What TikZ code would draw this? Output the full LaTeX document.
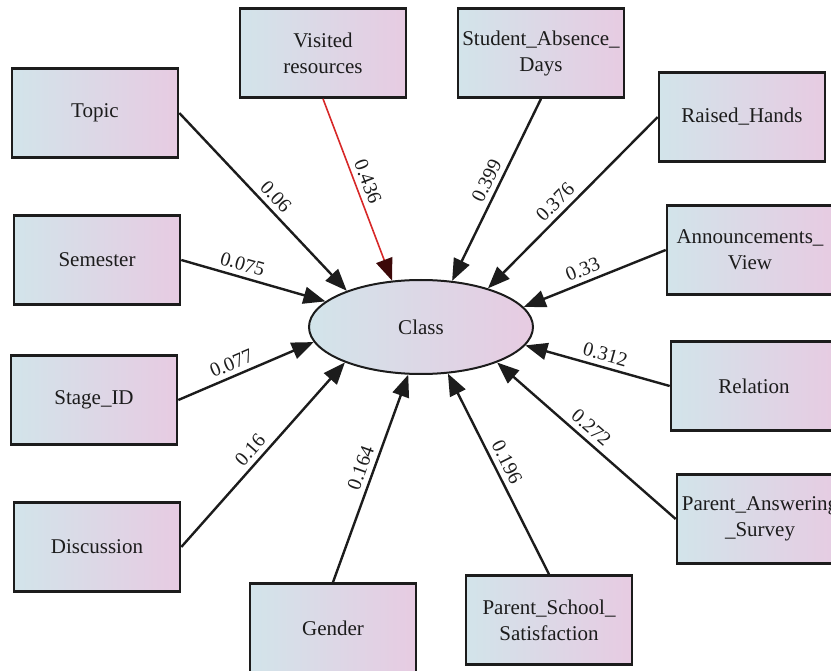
\documentclass[tikz,border=0pt]{standalone}
\usepackage{fontspec}
\setmainfont{Liberation Serif}
\usepackage{tikz}
\usetikzlibrary{shapes.geometric,arrows.meta}
\definecolor{boxl}{RGB}{210,228,234}
\definecolor{boxr}{RGB}{231,203,226}
\definecolor{ink}{RGB}{28,28,28}
\definecolor{redline}{RGB}{215,40,40}
\definecolor{redtip}{RGB}{60,8,8}

\begin{document}
\begin{tikzpicture}[x=1pt,y=-1pt,
  var/.style={draw=ink,line width=2.6pt,left color=boxl,right color=boxr,minimum width=166pt,minimum height=89pt,align=center,inner sep=1pt,text=ink,font=\fontsize{21}{26}\selectfont},
  target/.style={ellipse,draw=ink,line width=2pt,left color=boxl,right color=boxr,minimum width=224pt,minimum height=94pt,inner sep=0pt,text=ink,font=\fontsize{21}{26}\selectfont},
  edge/.style={draw=ink,line width=2.4pt,-{Triangle[length=22pt,width=17pt]}},
  wt/.style={sloped,above,inner sep=5pt,text=ink,font=\fontsize{20}{20}\selectfont}]
\useasboundingbox (0,0) rectangle (831,671);
\node[target] (cls) at (421,327) {Class};
\node[var] (topic) at (95,113) {Topic};
\node[var] (vis) at (323,53) {Visited\\resources};
\node[var] (abs) at (541,53) {Student\_Absence\_\\Days};
\node[var] (hands) at (742,117) {Raised\_Hands};
\node[var] (sem) at (97,260) {Semester};
\node[var] (ann) at (750,250) {Announcements\_\\View};
\node[var] (stage) at (94,400) {Stage\_ID};
\node[var] (rel) at (754,386) {Relation};
\node[var] (disc) at (97,547) {Discussion};
\node[var] (survey) at (760,519) {Parent\_Answering\\\_Survey};
\node[var] (gender) at (333,628) {Gender};
\node[var] (satis) at (549,620) {Parent\_School\_\\Satisfaction};
\draw[edge] (topic.east) -- (cls.154) node[wt,pos=.52]{0.06};
\draw[edge,draw=redline,line width=1.6pt,-{Triangle[length=22pt,width=17pt,color=redtip]}] (vis.south) -- (cls.122) node[wt,pos=.48]{0.436};
\draw[edge] (abs.south) -- (cls.56) node[wt,pos=.48]{0.399};
\draw[edge] (hands.west) -- (cls.30) node[wt,pos=.55]{0.376};
\draw[edge] (sem.east) -- (cls.165) node[wt,pos=.4]{0.075};
\draw[edge] (ann.west) -- (cls.11) node[wt,pos=.55]{0.33};
\draw[edge] (stage.east) -- (cls.188) node[wt,pos=.43]{0.077};
\draw[edge] (rel.west) -- (cls.350) node[wt,pos=.47]{0.312};
\draw[edge] (disc.east) -- (cls.205) node[wt,pos=.48]{0.16};
\draw[edge] (survey.west) -- (cls.335) node[wt,pos=.52]{0.272};
\draw[edge] (gender.north) -- (cls.255) node[wt,pos=.53]{0.164};
\draw[edge] (satis.north) -- (cls.300) node[wt,pos=.53]{0.196};
\end{tikzpicture}
\end{document}
